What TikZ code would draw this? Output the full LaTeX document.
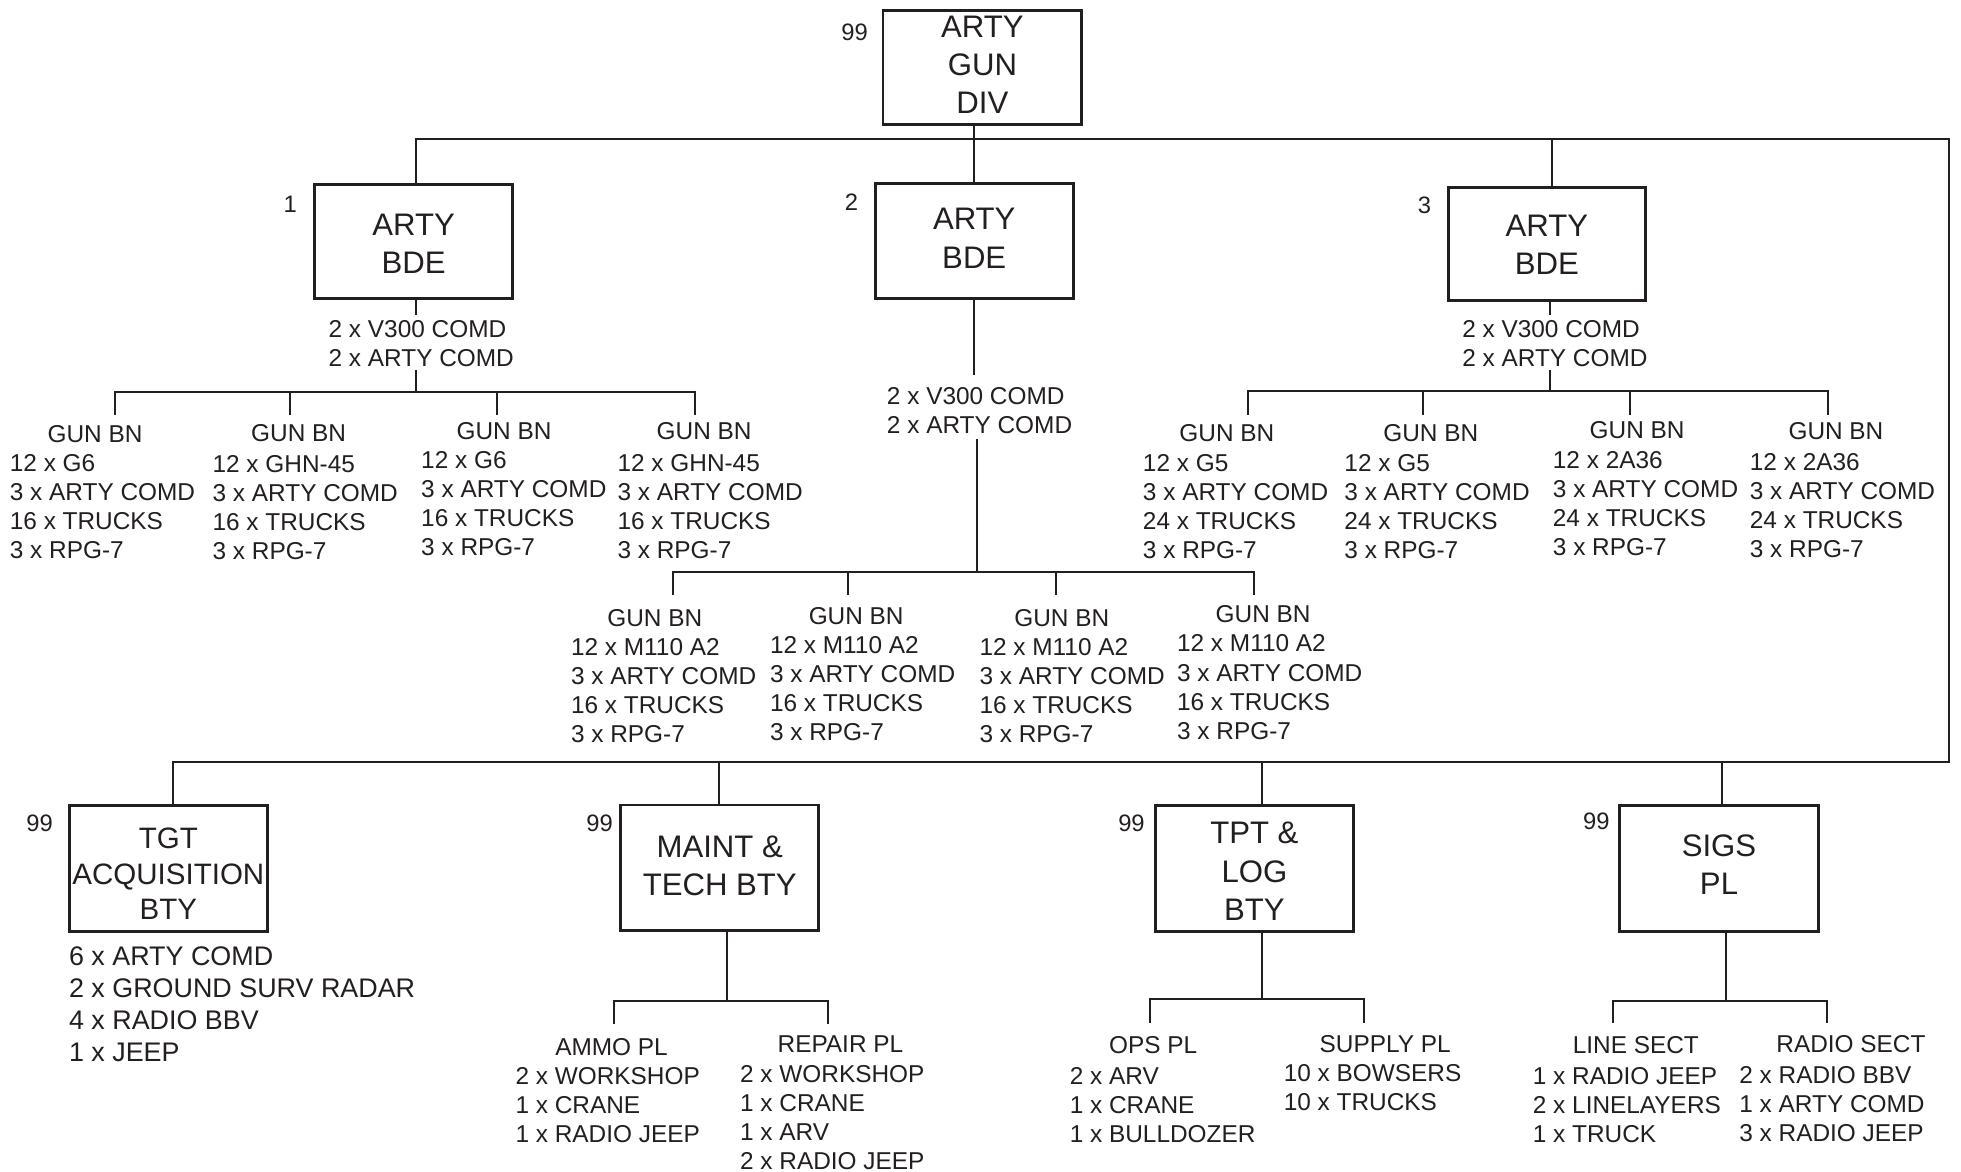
\documentclass[tikz,border=0pt]{standalone}
\usepackage{fontspec}
\setmainfont{Liberation Sans}
\definecolor{ink}{RGB}{35,31,32}
\newcommand\txtf{\fontsize{19.5}{23.2}\selectfont}
\newcommand\boxf{\fontsize{24.9}{30.5}\selectfont}
\newcommand\tgtf{\fontsize{23.6}{28.5}\selectfont}
\newcommand\tgtl{\fontsize{21.5}{25.6}\selectfont}
\newcommand\numf{\fontsize{19}{22}\selectfont}
\tikzset{
  ln/.style={draw=ink, line width=1.6pt, line join=miter},
  ubox/.style={draw=ink, line width=2.3pt, inner sep=0pt, minimum width=158.5pt, minimum height=91pt},
  lbox/.style={ubox, minimum height=100.6pt},
  boxtxt/.style={inner sep=0pt, align=center, font=\boxf, text=ink},
  blk/.style={inner sep=0pt, align=left, anchor=north west, font=\txtf, text=ink},
  hdr/.style={inner sep=0pt, font=\txtf, text=ink},
  num/.style={inner sep=0pt, font=\numf, text=ink}
}
\begin{document}
\begin{tikzpicture}[x=1pt,y=-1pt]
\fill[white] (0,0) rectangle (1568,937);
\useasboundingbox (0,0) rectangle (1568,937);

% ---- boxes
\node[ubox, minimum width=159pt] (top) at (785.5,53.8) {};
\node[boxtxt] (topt) at (785.5,51.8) {ARTY\\GUN\\DIV};
\node[ubox] (bde1) at (330.7,193.3) {};
\node[boxtxt] (bde1t) at (330.7,195) {ARTY\\BDE};
\node[ubox, minimum height=92pt] (bde2) at (779,193) {};
\node[boxtxt] (bde2t) at (779,190.5) {ARTY\\BDE};
\node[ubox, minimum width=157.5pt, minimum height=90.5pt] (bde3) at (1236.8,195.2) {};
\node[boxtxt] (bde3t) at (1236.8,196) {ARTY\\BDE};
\node[lbox] (tgt) at (134.6,694.3) {};
\node[boxtxt, font=\tgtf] (tgtt) at (134.6,698.7) {TGT\\ACQUISITION\\BTY};
\node[lbox] (maint) at (575.5,694) {};
\node[boxtxt] (maintt) at (575.5,692) {MAINT \&\\TECH BTY};
\node[lbox] (tpt) at (1003,694.3) {};
\node[boxtxt] (tptt) at (1003,696.7) {TPT \&\\LOG\\BTY};
\node[lbox] (sigs) at (1374.5,694.5) {};
\node[boxtxt] (sigst) at (1374.5,691.5) {SIGS\\PL};

% ---- numbers
\node[num] (n0) at (683.4,25.9) {99};
\node[num] (n1) at (232,163) {1};
\node[num] (n2) at (680.8,161.7) {2};
\node[num] (n3) at (1139,164) {3};
\node[num] (n4) at (31.6,658.6) {99};
\node[num] (n5) at (479.4,658.6) {99};
\node[num] (n6) at (904.7,658.6) {99};
\node[num] (n7) at (1276.5,656.7) {99};

% ---- brigade HQ texts
\node[blk] (b1t) at (262.6,256) {2 x V300 COMD\\2 x ARTY COMD};
\node[blk] (b2t) at (709,309.5) {2 x V300 COMD\\2 x ARTY COMD};
\node[blk] (b3t) at (1169,256) {2 x V300 COMD\\2 x ARTY COMD};

% ---- BDE 1 battalions
\node[hdr] (g1h) at (76,347) {GUN BN};
\node[blk] (g1b) at (7.7,363.5) {12 x G6\\3 x ARTY COMD\\16 x TRUCKS\\3 x RPG-7};
\node[hdr] (g2h) at (238.8,346) {GUN BN};
\node[blk] (g2b) at (169.8,364) {12 x GHN-45\\3 x ARTY COMD\\16 x TRUCKS\\3 x RPG-7};
\node[hdr] (g3h) at (403,344.5) {GUN BN};
\node[blk] (g3b) at (336.6,360.5) {12 x G6\\3 x ARTY COMD\\16 x TRUCKS\\3 x RPG-7};
\node[hdr] (g4h) at (563,345) {GUN BN};
\node[blk] (g4b) at (493.6,363) {12 x GHN-45\\3 x ARTY COMD\\16 x TRUCKS\\3 x RPG-7};

% ---- BDE 3 battalions
\node[hdr] (r1h) at (981,346.5) {GUN BN};
\node[blk] (r1b) at (913.7,363) {12 x G5\\3 x ARTY COMD\\24 x TRUCKS\\3 x RPG-7};
\node[hdr] (r2h) at (1144,346.5) {GUN BN};
\node[blk] (r2b) at (1074.8,363.5) {12 x G5\\3 x ARTY COMD\\24 x TRUCKS\\3 x RPG-7};
\node[hdr] (r3h) at (1309,344) {GUN BN};
\node[blk] (r3b) at (1241.5,360.5) {12 x 2A36\\3 x ARTY COMD\\24 x TRUCKS\\3 x RPG-7};
\node[hdr] (r4h) at (1468,345) {GUN BN};
\node[blk] (r4b) at (1399,362) {12 x 2A36\\3 x ARTY COMD\\24 x TRUCKS\\3 x RPG-7};

% ---- BDE 2 battalions
\node[hdr] (m1h) at (523.6,494) {GUN BN};
\node[blk] (m1b) at (456.4,510.5) {12 x M110 A2\\3 x ARTY COMD\\16 x TRUCKS\\3 x RPG-7};
\node[hdr] (m2h) at (684.6,492.5) {GUN BN};
\node[blk] (m2b) at (615.5,509) {12 x M110 A2\\3 x ARTY COMD\\16 x TRUCKS\\3 x RPG-7};
\node[hdr] (m3h) at (849,494) {GUN BN};
\node[blk] (m3b) at (783,510.5) {12 x M110 A2\\3 x ARTY COMD\\16 x TRUCKS\\3 x RPG-7};
\node[hdr] (m4h) at (1010,491) {GUN BN};
\node[blk] (m4b) at (941,507.5) {12 x M110 A2\\3 x ARTY COMD\\16 x TRUCKS\\3 x RPG-7};

% ---- bottom groups
\node[blk, font=\tgtl] (tgtb) at (55,757) {6 x ARTY COMD\\2 x GROUND SURV RADAR\\4 x RADIO BBV\\1 x JEEP};
\node[hdr] (ah) at (489,837) {AMMO PL};
\node[blk] (ab) at (412,853.6) {2 x WORKSHOP\\1 x CRANE\\1 x RADIO JEEP};
\node[hdr] (rph) at (672,835) {REPAIR PL};
\node[blk] (rpb) at (591.6,851.5) {2 x WORKSHOP\\1 x CRANE\\1 x ARV\\2 x RADIO JEEP};
\node[hdr] (oh) at (922,836) {OPS PL};
\node[blk] (ob) at (855.2,853) {2 x ARV\\1 x CRANE\\1 x BULLDOZER};
\node[hdr] (sh) at (1107.6,835) {SUPPLY PL};
\node[blk] (sb) at (1026.3,850.6) {10 x BOWSERS\\10 x TRUCKS};
\node[hdr] (lh) at (1308,836) {LINE SECT};
\node[blk] (lb) at (1225.5,853.7) {1 x RADIO JEEP\\2 x LINELAYERS\\1 x TRUCK};
\node[hdr] (rh) at (1480,835) {RADIO SECT};
\node[blk] (rb) at (1390.6,852.2) {2 x RADIO BBV\\1 x ARTY COMD\\3 x RADIO JEEP};

% ---- main buses
\coordinate (tb1) at (333,111);
\coordinate (tbR) at (1558.3,111);
\coordinate (bbR) at (1558.3,609);
\coordinate (bbL) at (138.2,609);
\coordinate (tb3) at (1241,111);
\coordinate (bb2) at (574.7,609);
\coordinate (bb3) at (1008.8,609);
\coordinate (bb4) at (1376.6,609);
\draw[ln] (tb1 |- bde1.north) -- (tb1) -- (tbR) -- (bbR) -- (bbL) -- (bbL |- tgt.north);
\draw[ln] (top.south -| bde2.north) -- (bde2.north);
\draw[ln] (tb3) -- (tb3 |- bde3.north);
\draw[ln] (bb2) -- (bb2 |- maint.north);
\draw[ln] (bb3) -- (bb3 |- tpt.north);
\draw[ln] (bb4) -- (bb4 |- sigs.north);

% ---- BDE 1 branch
\coordinate (s1) at (333,313.5);
\draw[ln] (s1 |- bde1.south) -- (333,252);
\draw[ln] (333,295.5) -- (s1);
\draw[ln] (92,332) -- (92,313.5) -- (556,313.5) -- (556,332);
\foreach \x in {232,397} \draw[ln] (\x,313.5) -- (\x,332);

% ---- BDE 2 branch
\coordinate (s2) at (781,457);
\draw[ln] (779,0 |- bde2.south) -- (779,300);
\draw[ln] (781,351) -- (s2);
\draw[ln] (538,476) -- (538,457) -- (1002.3,457) -- (1002.3,476);
\foreach \x in {678,844} \draw[ln] (\x,457) -- (\x,476);

% ---- BDE 3 branch
\coordinate (s3) at (1239,313);
\draw[ln] (s3 |- bde3.south) -- (1239,252);
\draw[ln] (1239,295.5) -- (s3);
\draw[ln] (998,331.6) -- (998,313) -- (1462,313) -- (1462,331.6);
\foreach \x in {1138,1303} \draw[ln] (\x,313) -- (\x,331.6);

% ---- bottom branches
\coordinate (s4) at (581.4,800);
\draw[ln] (s4 |- maint.south) -- (s4);
\draw[ln] (491,819) -- (491,800) -- (662,800) -- (662,819);
\coordinate (s5) at (1008.8,799);
\draw[ln] (s5 |- tpt.south) -- (s5);
\draw[ln] (919.8,818) -- (919.8,799) -- (1090.4,799) -- (1090.4,818);
\coordinate (s6) at (1380,800);
\draw[ln] (s6 |- sigs.south) -- (s6);
\draw[ln] (1290,818) -- (1290,800) -- (1460.7,800) -- (1460.7,818);
\end{tikzpicture}
\end{document}
